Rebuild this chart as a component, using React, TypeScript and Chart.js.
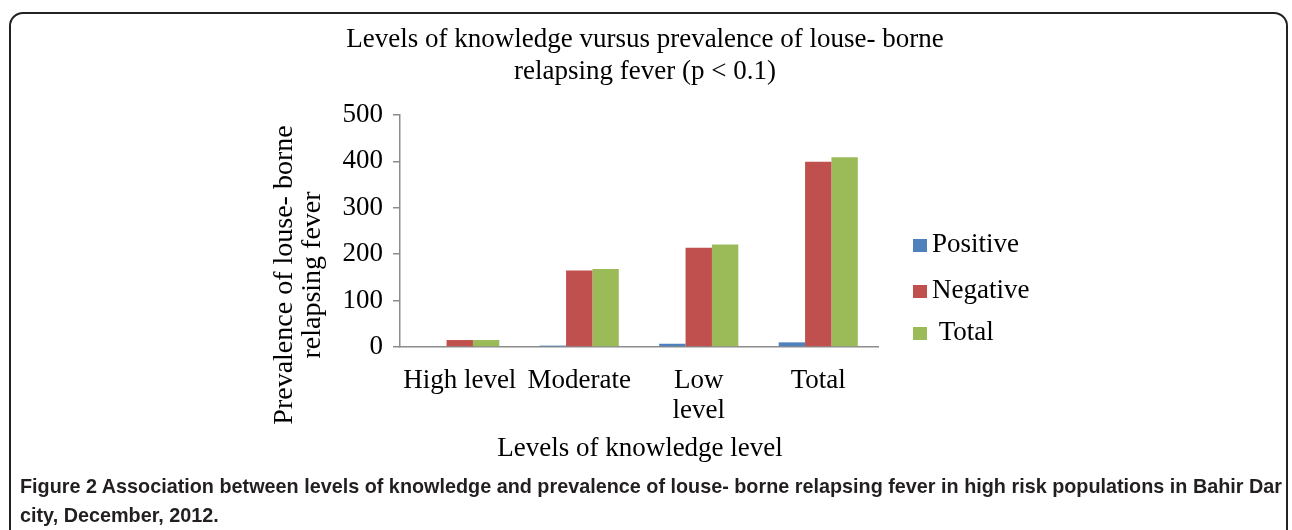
import React, { useEffect, useLayoutEffect, useRef } from "react";
import { Chart, registerables } from "chart.js";

Chart.register(...registerables);

const categoryLabels: (string | string[])[] = ["High level", "Moderate", ["Low", "level"], "Total"];
const seriesNames = ["Positive", "Negative", "Total"];
const positiveValues = [0, 3, 7, 10];
const negativeValues = [15, 165, 214, 399];
const totalValues = [15, 168, 221, 409];
const seriesColors = ["#4F81BD", "#C0504D", "#9BBB59"];
const yTicks = { min: 0, max: 500, step: 100 };
const titleLines = ["Levels of knowledge vursus prevalence of louse- borne", "relapsing fever (p < 0.1)"];
const yTitleLines = ["Prevalence of louse- borne", "relapsing fever"];
const xTitle = "Levels of knowledge level";

const SERIF = '"Liberation Serif", "Times New Roman", serif';

const decorPlugin = {
  id: "decor",
  afterDraw(chart: any) {
    const ctx = chart.ctx as CanvasRenderingContext2D;
    ctx.save();
    ctx.fillStyle = "#000";
    ctx.textAlign = "center";
    ctx.textBaseline = "middle";
    // title
    ctx.font = `27px ${SERIF}`;
    ctx.fillText(titleLines[0], 645, 40);
    ctx.fillText(titleLines[1], 645, 72);
    // y title
    ctx.save();
    ctx.font = `28px ${SERIF}`;
    ctx.translate(285, 275);
    ctx.rotate(-Math.PI / 2);
    ctx.fillText(yTitleLines[0], 0, 0);
    ctx.fillText(yTitleLines[1], 0, 28);
    ctx.restore();
    // x title
    ctx.font = `27px ${SERIF}`;
    ctx.fillText(xTitle, 640, 449);
    // legend
    ctx.textAlign = "left";
    const ys = [245, 291, 333];
    chart.data.datasets.forEach((ds: any, i: number) => {
      ctx.fillStyle = ds.backgroundColor;
      ctx.fillRect(913, ys[i] - 6, 14, 13);
      ctx.fillStyle = "#000";
      ctx.fillText((i === 2 ? " " : "") + ds.label, 932, ys[i]);
    });
    ctx.restore();
  },
};

export default function App() {
  const ref = useRef<HTMLCanvasElement | null>(null);
  const capRef = useRef<HTMLDivElement | null>(null);

  useLayoutEffect(() => {
    const el = capRef.current;
    if (!el) return;
    const line = el.querySelector("[data-l1]") as HTMLElement | null;
    if (!line) return;
    const w = line.getBoundingClientRect().width;
    if (w > 0) el.style.transform = `scaleX(${1262 / w})`;
  }, []);

  useEffect(() => {
    if (!ref.current) return;
    const values = [positiveValues, negativeValues, totalValues];
    const chart = new Chart(ref.current, {
      type: "bar",
      data: {
        labels: categoryLabels,
        datasets: seriesNames.map((name, i) => ({
          label: name,
          data: values[i],
          backgroundColor: seriesColors[i],
          borderWidth: 0,
          categoryPercentage: 0.662,
          barPercentage: 1.0,
        })),
      },
      options: {
        responsive: false,
        animation: false,
        layout: { padding: { top: 115, right: 414, left: 0, bottom: 0 } },
        plugins: { legend: { display: false }, title: { display: false }, tooltip: { enabled: false } },
        scales: {
          x: {
            grid: { display: false, drawTicks: false },
            border: { display: true, color: "#8C8C8C", width: 1.5 },
            ticks: {
              color: "#000",
              font: { family: SERIF, size: 27, lineHeight: 1.1 },
              padding: 19,
              maxRotation: 0,
              autoSkip: false,
            },
            afterFit: (s: any) => {
              s.height = 530 - 347;
            },
          },
          y: {
            min: yTicks.min,
            max: yTicks.max,
            grid: { display: true, drawOnChartArea: false, drawTicks: true, tickLength: 7, color: "#8C8C8C", lineWidth: 1.5 },
            border: { display: true, color: "#8C8C8C", width: 1.5 },
            ticks: {
              stepSize: yTicks.step,
              color: "#000",
              font: { family: SERIF, size: 27 },
              padding: 10,
            },
            afterFit: (s: any) => {
              s.width = 400;
            },
          },
        },
      },
      plugins: [decorPlugin],
    });
    return () => chart.destroy();
  }, []);

  return (
    <div style={{ position: "fixed", left: 0, top: 0, width: 1292, height: 530, overflow: "hidden", background: "#fff" }}>
      <div
        style={{
          position: "absolute",
          left: 9,
          top: 12,
          width: 1279,
          height: 700,
          border: "2px solid #222",
          borderRadius: 14,
          boxSizing: "border-box",
        }}
      />
      <canvas ref={ref} width={1292} height={530} style={{ position: "absolute", left: 0, top: 0 }} />
      <div
        ref={capRef}
        style={{
          position: "absolute",
          left: 20,
          top: 471,
          fontFamily: '"Liberation Sans Narrow", "Arial Narrow", "Liberation Sans", sans-serif',
          fontWeight: "bold",
          fontSize: 21,
          lineHeight: "29px",
          color: "#231F20",
          whiteSpace: "nowrap",
          transformOrigin: "0 0",
        }}
      >
        <span data-l1="1">
          <span style={{ fontWeight: 900 }}>Figure 2</span> Association between levels of knowledge and prevalence of louse- borne relapsing fever in high risk populations in Bahir Dar
        </span>
        <br />
        city, December, 2012.
      </div>
    </div>
  );
}
